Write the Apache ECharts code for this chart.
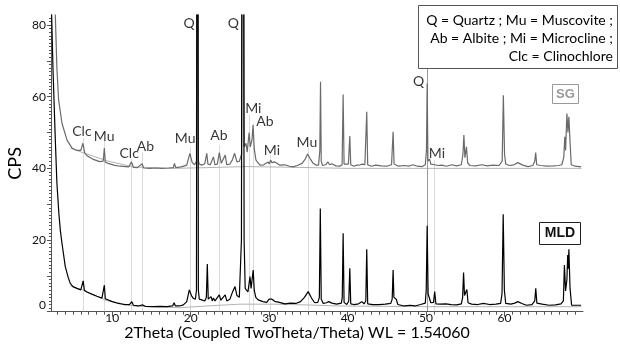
<!DOCTYPE html>
<html><head><meta charset="utf-8">
<script src="https://cdn.jsdelivr.net/npm/echarts@6/dist/echarts.min.js"></script>
<style>html,body{margin:0;padding:0;background:#fff}#c{width:620px;height:345px}</style>
</head><body><div id="c"></div>
<script>
// ---- data (2Theta in degrees, intensity in CPS) ----
const sgTrace = [
[2.55,100],[2.75,82.8],[2.95,68],[3.17,59.1],[3.6,52.6],[4.24,47.9],[4.87,45.7],[5.5,45.0],[6.0,45.0],[6.27,47.0],[6.5,44.3],[6.8,43.5],[7.6,42.5],[8.4,41.9],[8.85,42.0],[9.0,45.7],[9.12,41.7],[9.5,41.4],[10.2,40.9],[11.0,40.6],[12.1,40.4],[12.46,41.8],[12.7,40.3],[13.2,40.2],[13.82,41.3],[14.0,40.1],[14.8,40.0],[15.5,40.1],[16.3,40.0],[17.2,40.1],[17.8,40.2],[17.93,41.4],[18.1,40.2],[18.8,40.4],[19.5,40.9],[19.9,44.2],[20.2,41.6],[20.5,41.0],[20.74,42],[20.80,120],[20.86,300],[20.92,120],[20.98,42],[21.1,41.2],[21.4,40.9],[21.8,41.3],[22.05,44.2],[22.2,41.2],[22.5,41.0],[22.9,43.2],[23.1,41.0],[23.4,41.2],[23.65,44.4],[23.9,41.4],[24.1,41.2],[24.4,43.7],[24.6,41.0],[25.0,41.2],[25.3,42.3],[25.6,44.2],[25.9,41.8],[26.2,42.0],[26.5,44],[26.6,150],[26.66,600],[26.72,150],[26.82,46],[27.05,47.0],[27.2,44.5],[27.45,50.0],[27.6,46],[27.82,48],[27.95,52.1],[28.1,45.5],[28.32,42.3],[28.83,40.9],[29.3,41.0],[29.89,41.8],[30.0,41.2],[30.19,42.3],[30.35,41.6],[30.5,42.0],[30.74,41.8],[31.37,40.9],[32.0,41.0],[32.6,40.6],[33.07,40.4],[33.6,40.8],[34.2,41.4],[34.6,42.6],[34.9,44.0],[35.2,42.8],[35.61,41.4],[36.0,40.9],[36.3,40.9],[36.46,45],[36.55,64.2],[36.64,42],[36.8,40.8],[37.2,41.0],[37.5,41.8],[37.7,41.0],[38.0,41.3],[38.5,40.7],[39.0,40.6],[39.3,41],[39.43,60.6],[39.55,41.2],[39.8,40.9],[40.1,41.2],[40.28,49.0],[40.4,41.0],[40.8,40.6],[41.2,40.9],[41.6,41.0],[41.9,41.2],[42.2,41.0],[42.44,55.8],[42.56,41.0],[43.0,40.6],[43.6,40.9],[44.3,40.7],[45.0,40.6],[45.6,41.0],[45.8,50.2],[45.92,41.2],[46.1,41.2],[46.5,40.6],[47.2,40.8],[47.8,40.6],[48.3,41.0],[48.9,40.6],[49.5,40.5],[49.9,41.0],[50.05,45],[50.14,63.7],[50.24,42],[50.45,42.6],[50.6,41.2],[51.1,41.0],[51.5,40.8],[52.0,40.9],[52.6,40.6],[53.3,41.0],[53.9,40.7],[54.5,41.0],[54.7,44],[54.82,49.3],[54.95,43],[55.15,46.0],[55.3,41.5],[55.6,40.8],[56.3,40.7],[57.1,41.0],[57.8,40.7],[58.5,40.9],[59.3,40.8],[59.7,42],[59.85,60.4],[60.0,44],[60.15,41.2],[60.6,40.8],[61.2,41.0],[61.7,41.6],[62.3,40.9],[63.0,40.5],[63.6,40.8],[63.85,42],[63.97,44.4],[64.1,41.0],[64.6,40.8],[65.4,40.6],[66.2,40.7],[66.9,40.8],[67.3,41.0],[67.55,43],[67.68,48.8],[67.78,45],[67.95,55.3],[68.08,50],[68.2,54.4],[68.35,47.4],[68.5,41.0],[69.0,40.6],[69.76,40.4]
];
const mldTrace = [
[2.2,90],[2.45,68],[2.75,48],[2.95,36],[3.2,27.5],[3.4,22.5],[3.6,19.1],[4.02,12.6],[4.4,9.5],[4.66,7.9],[5.0,7.0],[5.5,6.5],[6.0,6.1],[6.14,6.2],[6.3,8.6],[6.45,6.0],[6.78,5.5],[7.4,4.9],[8.05,4.3],[8.69,3.8],[8.9,4.2],[9.0,7.4],[9.12,3.6],[9.33,3.3],[10.0,2.8],[10.8,2.3],[11.5,2.0],[12.2,2.0],[12.5,2.8],[12.7,1.8],[13.3,1.6],[13.9,1.9],[14.2,1.5],[15.25,1.4],[16.1,1.5],[16.96,1.4],[17.7,1.6],[17.89,2.5],[18.05,1.6],[18.6,1.6],[19.07,1.9],[19.5,2.8],[19.83,6.1],[20.1,4.5],[20.34,3.7],[20.6,3.5],[20.74,6],[20.80,120],[20.86,300],[20.92,120],[20.98,6],[21.1,3.5],[21.41,3.3],[21.8,3.0],[22.0,4],[22.12,13.3],[22.24,3.5],[22.4,3.0],[22.6,4.2],[22.75,3.0],[22.9,3.8],[23.1,3.0],[23.3,3.5],[23.65,4.7],[23.85,3.2],[24.1,3.0],[24.4,4.7],[24.6,3.0],[25.0,3.5],[25.35,5.6],[25.65,7.0],[25.9,4.5],[26.2,4.0],[26.47,20],[26.56,150],[26.64,600],[26.72,150],[26.81,20],[26.95,6.5],[27.13,7.0],[27.3,5.5],[27.56,9.8],[27.7,6.5],[27.97,11.6],[28.1,6.0],[28.3,4.0],[28.6,3.3],[29.2,2.8],[29.7,2.6],[30.0,3.5],[30.2,3.8],[30.36,3.5],[30.5,3.9],[30.7,2.9],[31.3,2.6],[32.0,2.2],[32.7,2.4],[33.4,2.3],[34.0,2.8],[34.5,4.0],[34.98,5.6],[35.4,3.8],[35.8,2.5],[36.2,2.6],[36.4,4],[36.52,28.8],[36.64,3.5],[36.9,2.3],[37.3,2.5],[37.6,2.8],[38.0,2.4],[38.6,2.1],[39.2,2.4],[39.32,4],[39.43,21.9],[39.55,2.6],[39.9,2.0],[40.15,3],[40.28,12.1],[40.4,2.2],[40.8,2.0],[41.4,2.2],[41.8,2.8],[42.1,2.2],[42.32,3],[42.44,17.4],[42.56,2.2],[43.2,2.0],[44.0,2.0],[44.8,2.1],[45.5,2.3],[45.68,3.5],[45.8,11.6],[45.9,4],[46.2,3.5],[46.4,2.0],[47.2,1.6],[48.0,1.8],[48.6,1.6],[49.3,2.0],[49.9,2.4],[50.02,6],[50.14,24],[50.26,5],[50.45,4.7],[50.6,2.5],[50.95,2.6],[51.1,5.6],[51.25,2.2],[51.8,2.1],[52.5,2.2],[53.2,2.0],[53.9,1.9],[54.5,2.2],[54.66,4],[54.78,10.9],[54.9,4.5],[55.2,6.2],[55.35,2.5],[55.8,2.1],[56.6,2.0],[57.3,2.3],[58.1,2.0],[58.9,2.1],[59.5,2.3],[59.68,5],[59.83,27.2],[59.98,6],[60.15,2.3],[60.8,2.1],[61.3,2.4],[61.7,2.8],[62.2,2.3],[62.8,1.8],[63.5,2.0],[63.85,3],[63.98,6.5],[64.12,2.4],[64.8,2.1],[65.7,1.8],[66.5,1.9],[67.2,2.2],[67.5,3],[67.63,13.0],[67.78,5.8],[67.95,9],[68.05,15.8],[68.12,12],[68.2,17.4],[68.35,6.5],[68.55,1.8],[69.2,1.8],[69.76,1.8]
];
const sgBackground = [[4.66,45.6],[6.27,44.4],[9.33,42.1],[12.7,40.4],[17.8,40.0],[22,40.2],[27,40.5],[33,40.3],[40,40.0],[50,40.0],[60,40.0],[69.8,40.0]];
const mldBackground = [[4.66,7.2],[6.3,6.0],[9.3,3.1],[12.7,1.6],[18.6,1.1],[22,1.6],[26.3,2.1],[30.5,2.1],[34.8,1.9],[38.7,1.6],[50,1.4],[69.8,1.4]];
const refLineMineral = ['Clc','Mu','Clc','Ab','Mu','Ab','Mi','Ab','Mi','Mu','Q','Mi'];
const refLineX   = [6.27, 9.0, 12.46, 13.82, 19.96, 23.65, 27.43, 28.0, 30.2, 34.98, 50.1, 51.1];
const refLineTop = [48.5, 47.9, 42.6, 44.4, 46.0, 46.5, 54.9, 52.6, 43.7, 45.7, 68.0, 42.3];
const peakLabelText = ['Clc','Mu','Clc','Ab','Mu','Ab','Q','Q','Mi','Ab','Mi','Mu','Q','Mi'];
const peakLabelX = [6.14, 8.98, 12.16, 14.24, 19.29, 23.61, 19.8, 25.43, 27.98, 29.47, 30.36, 34.81, 49.06, 51.39];
const peakLabelY = [50.2, 49.0, 44.2, 46.0, 48.4, 49.1, 80.4, 80.4, 56.8, 53.2, 45.1, 47.1, 64.2, 44.2];
const xTickLabels = [10, 20, 30, 40, 50, 60];
const yTickLabels = [0, 20, 40, 60, 80];
const legendLines = ['Q = Quartz ; Mu = Muscovite ;', 'Ab = Albite ; Mi = Microcline ;', 'Clc = Clinochlore'];
const sampleNames = ['SG', 'MLD'];
const xTitle = '2Theta (Coupled TwoTheta/Theta) WL = 1.54060';
const yTitle = 'CPS';

// ---- build chart ----
const X_MIN = 2.2, X_MAX = 70, Y_MIN = 0, Y_MAX = 82.8;
const xMinorTicks = []; for (let v = 3; v <= 69; v++) xMinorTicks.push(v);
const yMinorTicks = []; for (let v = 0; v <= 82; v++) yMinorTicks.push(v);
const yMidTicks = [0,10,20,30,40,50,60,70,80];
const FONT = 'Lato, "Open Sans", sans-serif';
const axisCol = '#555';

const chart = echarts.init(document.getElementById('c'), null, {renderer: 'canvas'});
const refData = refLineX.map((x, i) => ({
  coords: [[x, refLineTop[i]], [x, 0]],
  lineStyle: refLineMineral[i] === 'Q' ? {color: '#333', width: 1} : {color: '#b8b8b8', width: 1}
}));
const labelData = peakLabelX.map((x, i) => [x, peakLabelY[i], peakLabelText[i]]);

chart.setOption({
  animation: false,
  backgroundColor: '#fff',
  grid: {left: 51, top: 15, width: 532, height: 296.7, containLabel: false, outerBoundsMode: 'none'},
  xAxis: [{
    type: 'value', min: X_MIN, max: X_MAX,
    axisLine: {lineStyle: {color: axisCol, width: 1}},
    axisTick: {customValues: xMinorTicks, length: 3, lineStyle: {color: axisCol}},
    axisLabel: {customValues: xTickLabels, fontSize: 12, color: '#111', margin: 0, fontFamily: FONT},
    splitLine: {show: false},
    name: xTitle, nameLocation: 'middle', nameGap: 13, nameMoveOverlap: false,
    nameTextStyle: {fontSize: 16, color: '#000', fontFamily: FONT, padding: [0, 40, 0, 0]}
  }, {
    type: 'value', min: X_MIN, max: X_MAX, position: 'bottom',
    axisLine: {show: false},
    axisTick: {customValues: xTickLabels, length: 5, lineStyle: {color: axisCol}},
    axisLabel: {show: false}, splitLine: {show: false}
  }],
  yAxis: [{
    type: 'value', min: Y_MIN, max: Y_MAX,
    axisLine: {show: true, lineStyle: {color: axisCol, width: 1}},
    axisTick: {show: true, customValues: yMinorTicks, length: 2, lineStyle: {color: axisCol}},
    axisLabel: {customValues: yTickLabels, fontSize: 12, color: '#111', margin: 5, fontFamily: FONT,
      formatter: v => v === 0 ? '{z|0}' : String(v),
      rich: {z: {fontSize: 12, fontFamily: FONT, color: '#111', padding: [0, 0, 14, 0]}}},
    splitLine: {show: false},
    name: yTitle, nameLocation: 'middle', nameGap: 27, nameRotate: 90, nameMoveOverlap: false,
    nameTextStyle: {fontSize: 18, color: '#000', fontFamily: FONT}
  }, {
    type: 'value', min: Y_MIN, max: Y_MAX, position: 'left',
    axisLine: {show: false},
    axisTick: {show: true, customValues: yMidTicks, length: 4, lineStyle: {color: axisCol}},
    axisLabel: {show: false}, splitLine: {show: false}
  }],
  series: [
    {type: 'lines', coordinateSystem: 'cartesian2d', xAxisIndex: 0, yAxisIndex: 0, silent: true, z: 1, data: refData},
    {type: 'line', data: sgBackground, showSymbol: false, symbol: 'none', lineStyle: {color: '#a0a0a0', width: 0.8}, z: 2, silent: true},
    {type: 'line', data: mldBackground, showSymbol: false, symbol: 'none', lineStyle: {color: '#a0a0a0', width: 0.8}, z: 2, silent: true},
    {type: 'line', name: sampleNames[0], data: sgTrace, showSymbol: false, symbol: 'none', clip: true, lineStyle: {color: '#6a6a6a', width: 1.2}, z: 3},
    {type: 'line', name: sampleNames[1], data: mldTrace, showSymbol: false, symbol: 'none', clip: true, lineStyle: {color: '#000', width: 1.2}, z: 4},
    {type: 'scatter', data: labelData, symbolSize: 0, z: 5, silent: true,
     label: {show: true, position: 'inside', formatter: p => p.data[2], fontSize: 14, color: '#000', fontFamily: FONT}}
  ],
  graphic: [
    {type: 'rect', shape: {x: 418.5, y: 5.5, width: 199, height: 63}, style: {fill: '#fff', stroke: '#555', lineWidth: 1}, z: 10},
    {type: 'text', x: 613, y: 11, style: {text: legendLines.join('\n'), align: 'right', verticalAlign: 'top', font: '14px Lato, sans-serif', lineHeight: 18, fill: '#000'}, z: 11},
    {type: 'rect', shape: {x: 552.5, y: 84.5, width: 26, height: 19}, style: {fill: '#fff', stroke: '#999', lineWidth: 1}, z: 10},
    {type: 'text', x: 565.5, y: 94, style: {text: sampleNames[0], align: 'center', verticalAlign: 'middle', font: 'bold 13px "Liberation Sans", Arial, sans-serif', fill: '#999'}, z: 11},
    {type: 'rect', shape: {x: 539.5, y: 222.5, width: 41, height: 22}, style: {fill: '#fff', stroke: '#222', lineWidth: 1}, z: 10},
    {type: 'text', x: 560, y: 233.5, style: {text: sampleNames[1], align: 'center', verticalAlign: 'middle', font: 'bold 14px "Liberation Sans", Arial, sans-serif', fill: '#111'}, z: 11}
  ]
});
</script>
</body></html>
